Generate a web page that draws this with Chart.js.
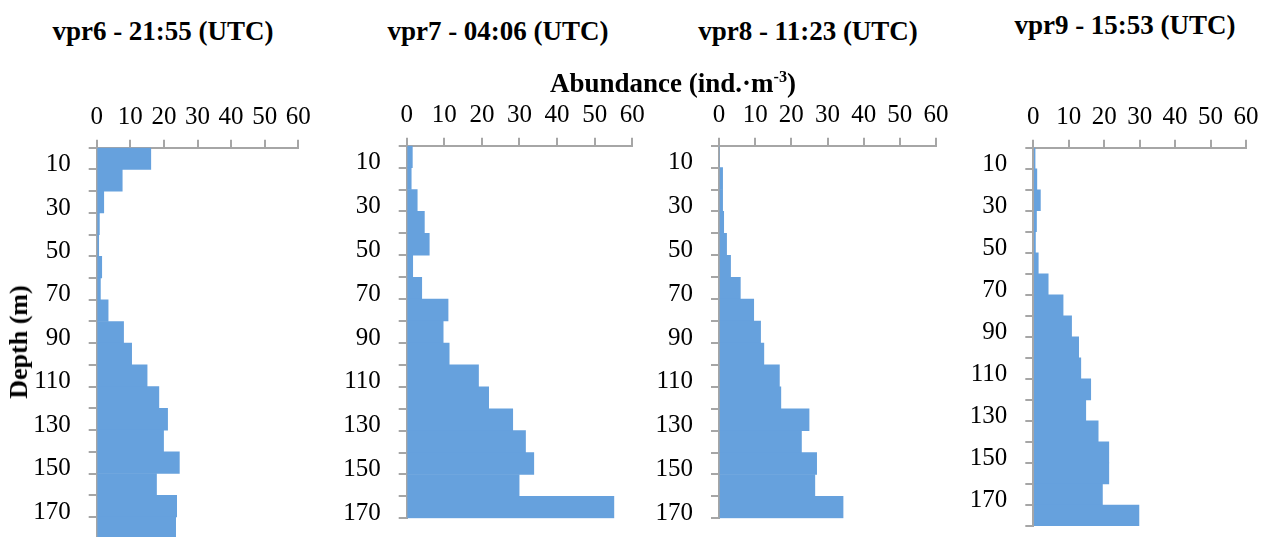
<!DOCTYPE html>
<html>
<head>
<meta charset="utf-8">
<script src="https://cdn.jsdelivr.net/npm/chart.js@4"></script>
<style>
  body { margin: 0; background: #fff; }
  #page { position: relative; width: 1269px; height: 537px; overflow: hidden; background: #fff; }
  canvas { position: absolute; }
  .lbl { position: absolute; transform: translate(-50%, -50%); white-space: nowrap;
         font-family: "Liberation Serif", serif; font-weight: bold; color: #000; line-height: 1; }
  .ttl { font-size: 27px; }
  #xTitle { font-size: 27px; }
  #xTitle sup { font-size: 0.6em; vertical-align: 0.6em; }
  #yTitle { font-size: 26px; transform: translate(-50%, -50%) rotate(-90deg); }
</style>
</head>
<body>
<div id="page">
  <canvas id="c6"></canvas>
  <canvas id="c7"></canvas>
  <canvas id="c8"></canvas>
  <canvas id="c9"></canvas>
  <div class="lbl ttl" style="left:163px; top:31px">vpr6 - 21:55 (UTC)</div>
  <div class="lbl ttl" style="left:498px; top:31px">vpr7 - 04:06 (UTC)</div>
  <div class="lbl ttl" style="left:808px; top:31px">vpr8 - 11:23 (UTC)</div>
  <div class="lbl ttl" style="left:1125px; top:25px">vpr9 - 15:53 (UTC)</div>
  <div class="lbl" id="xTitle" style="left:673px; top:83px">Abundance (ind.·m<sup>-3</sup>)</div>
  <div class="lbl" id="yTitle" style="left:19px; top:342px">Depth (m)</div>
</div>
<script>
// depth bins (m) and abundance per bin for each profile
var depthBins = ["10", "20", "30", "40", "50", "60", "70", "80", "90", "100",
                 "110", "120", "130", "140", "150", "160", "170", "180"];

var vpr6 = [16.1, 7.6, 2.1, 0.8, 0.6, 1.5, 1.1, 3.4, 8.0, 10.4, 15.0, 18.5, 21.1, 19.9, 24.6, 17.8, 23.8, 23.5];
var vpr7 = [1.5, 1.2, 2.8, 4.7, 6.0, 1.6, 4.0, 11.0, 9.7, 11.3, 19.1, 21.8, 28.2, 31.6, 33.8, 29.9, 55.1];
var vpr8 = [0, 1.0, 1.0, 1.3, 2.1, 3.2, 5.9, 9.6, 11.5, 12.4, 16.7, 17.1, 24.9, 22.8, 27.0, 26.5, 34.3];
var vpr9 = [0.5, 1.0, 2.0, 0.9, 0.6, 1.4, 4.2, 8.4, 10.8, 12.8, 13.4, 16.2, 14.8, 18.3, 21.3, 21.3, 19.5, 29.8];

var abundanceTicks = [0, 10, 20, 30, 40, 50, 60];

var barColor = "rgb(102,161,221)";
var axisColor = "#a6a6a6";
var tickFont = { family: "'Liberation Serif', serif", size: 25 };

// plot-area box of each panel on the page
var panels = [
    { id: "c6", values: vpr6, left: 96.7, right: 298.3, top: 147.7, bottom: 538.7 },
    { id: "c7", values: vpr7, left: 406.7, right: 632.3, top: 145.7, bottom: 518.3 },
    { id: "c8", values: vpr8, left: 719, right: 936, top: 145.7, bottom: 518.3 },
    { id: "c9", values: vpr9, left: 1033.3, right: 1246, top: 147.7, bottom: 526 }
];

panels.forEach(function (p) {
    var canvas = document.getElementById(p.id);
    var cx = Math.floor(p.left - 90);
    var cy = Math.floor(p.top - 60);
    var axW = p.left - cx;
    var axH = p.top - cy;
    var w = Math.ceil(axW + (p.right - p.left) + 24);
    var h = Math.ceil(axH + (p.bottom - p.top) + 4);
    canvas.width = w;
    canvas.height = h;
    canvas.style.left = cx + "px";
    canvas.style.top = cy + "px";

    var gridOpts = {
        color: axisColor,
        lineWidth: 2,
        drawOnChartArea: false,
        drawTicks: true,
        tickLength: 8
    };

    new Chart(canvas, {
        type: "bar",
        data: {
            labels: depthBins.slice(0, p.values.length),
            datasets: [{
                data: p.values,
                backgroundColor: barColor,
                borderWidth: 0,
                barPercentage: 1,
                categoryPercentage: 1
            }]
        },
        options: {
            indexAxis: "y",
            responsive: false,
            animation: false,
            layout: {
                padding: {
                    left: 0, top: 0,
                    right: w - axW - (p.right - p.left),
                    bottom: h - axH - (p.bottom - p.top)
                }
            },
            plugins: { legend: { display: false }, tooltip: { enabled: false } },
            scales: {
                x: {
                    position: "top",
                    min: abundanceTicks[0],
                    max: abundanceTicks[abundanceTicks.length - 1],
                    afterBuildTicks: function (s) {
                        s.ticks = abundanceTicks.map(function (v) { return { value: v }; });
                    },
                    ticks: { font: tickFont, color: "#000", padding: 7, maxRotation: 0, autoSkip: false },
                    grid: gridOpts,
                    border: { display: true, color: axisColor, width: 2 },
                    afterFit: function (s) {
                        s.height = axH;
                        s.paddingLeft = 0;
                        s.paddingRight = 0;
                    }
                },
                y: {
                    ticks: {
                        font: tickFont,
                        color: "#000",
                        padding: 18,
                        labelOffset: 6,
                        autoSkip: false,
                        callback: function (v, i) {
                            return i % 2 === 0 ? this.getLabelForValue(v) : "";
                        }
                    },
                    grid: Object.assign({ offset: true }, gridOpts),
                    border: { display: true, color: axisColor, width: 2 },
                    afterFit: function (s) {
                        s.width = axW;
                        s.paddingTop = 0;
                        s.paddingBottom = 0;
                    }
                }
            }
        }
    });
});
</script>
</body>
</html>
